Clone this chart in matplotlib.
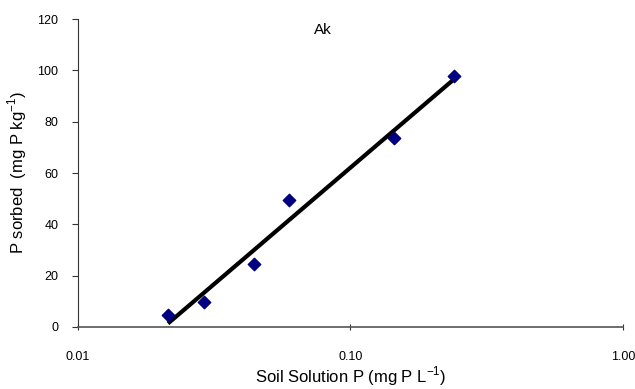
import numpy as np
import matplotlib.pyplot as plt

plt.rcParams['font.family'] = ['Liberation Sans', 'DejaVu Sans']

# valores
solucao_p = [0.0214, 0.0291, 0.0444, 0.0597, 0.145, 0.239]
p_sorvido = [4.8, 9.7, 24.5, 49.5, 73.6, 97.8]

# ajuste log-linear (y = a + b*log10(x))
b, a = np.polyfit(np.log10(solucao_p), p_sorvido, 1)
x_ajuste = np.array([min(solucao_p), max(solucao_p)])
y_ajuste = a + b * np.log10(x_ajuste)

fig = plt.figure(figsize=(6.35, 3.89), dpi=100)
ax = fig.add_axes([0.1228, 0.1594, 0.8582, 0.7916])

ax.plot(x_ajuste, y_ajuste, color='black', linewidth=3, solid_capstyle='butt', zorder=2)
ax.scatter(solucao_p, p_sorvido, marker='D', s=40, color='#000080', zorder=3)

ax.set_xscale('log')
ax.set_xlim(0.01, 1.0)
ax.set_ylim(0, 120)
ax.set_xticks([0.01, 0.1, 1.0])
ax.set_xticklabels(['0.01', '0.10', '1.00'])
ax.minorticks_off()
ax.set_yticks(range(0, 121, 20))

for lado in ['top', 'right']:
    ax.spines[lado].set_visible(False)
ax.spines['left'].set_color('#333333')
ax.spines['bottom'].set_color('#555555')
ax.spines['bottom'].set_linewidth(1.2)

ax.tick_params(axis='y', direction='out', length=4, pad=10, labelsize=9, color='#333333')
ax.tick_params(axis='x', direction='inout', length=5, pad=15, labelsize=9, color='#333333')

ax.set_xlabel('Soil Solution P (mg P L$^{\\mathregular{-1}}$)', fontsize=12, labelpad=1)
ax.set_ylabel('P sorbed  (mg P kg$^{\\mathregular{-1}}$)', fontsize=12, labelpad=6)
ax.text(0.45, 0.964, 'Ak', transform=ax.transAxes, fontsize=11, ha='center', va='center')

fig.savefig('out.png', dpi=100)
